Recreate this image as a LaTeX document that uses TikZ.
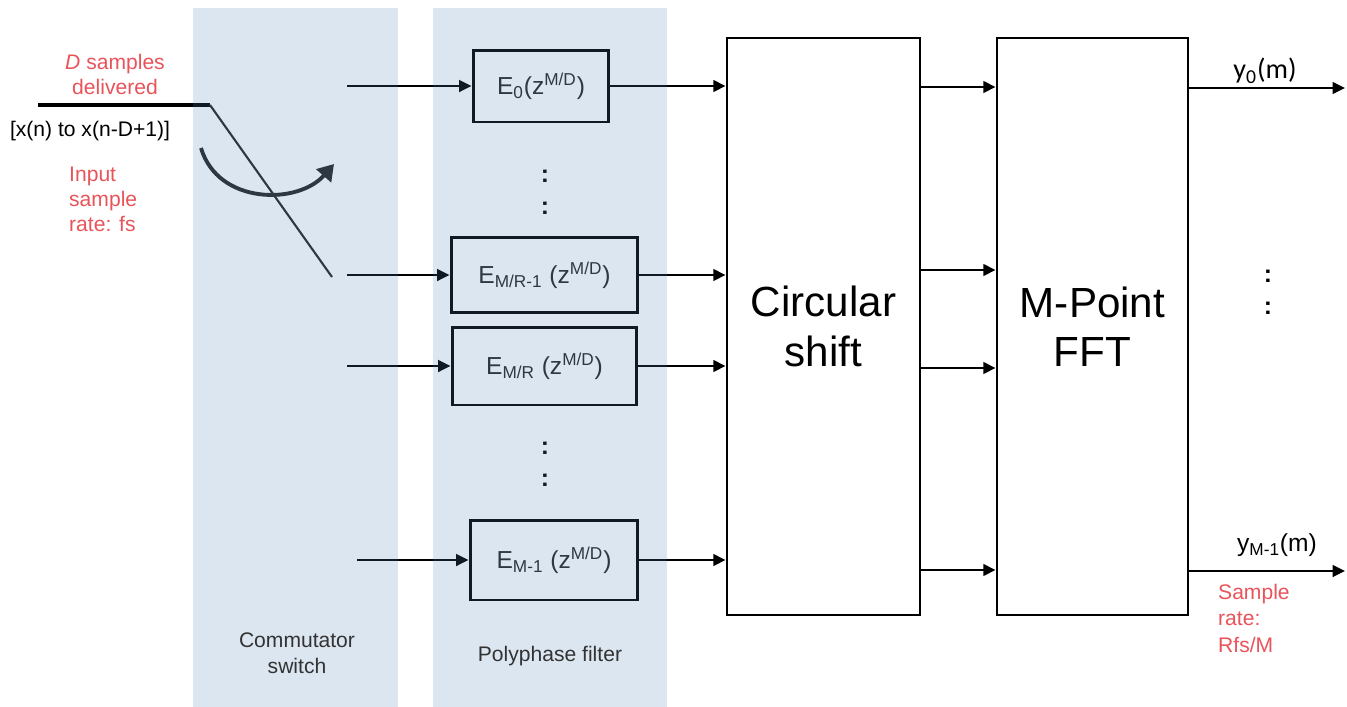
\documentclass[tikz,border=0pt]{standalone}
\usepackage{fontspec}
\setmainfont{Liberation Sans}
\newfontfamily\calfont{Carlito}
\usetikzlibrary{arrows.meta,positioning,calc}
\definecolor{alertred}{RGB}{232,84,90}
\definecolor{panelblue}{RGB}{80,130,185}

\begin{document}
\begin{tikzpicture}[x=0.02cm,y=-0.02cm,
    filt/.style={rectangle,draw,line width=1.7pt,inner sep=0pt,text=black!85,font=\fontsize{14}{16}\selectfont},
    blk/.style={rectangle,draw,line width=1.6pt,minimum width=3.86cm,minimum height=11.54cm,align=center,font=\fontsize{24}{28}\selectfont},
    sig/.style={line width=1.6pt,-{Triangle[length=7pt,width=6.5pt]}},
    note/.style={text=alertred,align=left,font=\fontsize{12}{14.2}\selectfont},
    dots/.style={align=center,inner sep=0pt,font=\bfseries\fontsize{14}{18}\selectfont},
    panel/.style={rectangle,fill=panelblue,fill opacity=0.2,minimum height=13.98cm,inner sep=0pt}]
    \useasboundingbox (0,0) rectangle (1347,707);

    % Input side
    \coordinate (src) at (38,105);
    \coordinate (tap) at (210,105);
    \coordinate (swend) at (332,277);
    \draw[line width=1.8pt] (src) -- (tap);
    \draw[line width=1.2pt,black!85] (tap) -- (swend);
    \draw[line width=2.2pt,black!85,-{Triangle[length=9pt,width=11pt]}] (201,148) .. controls (218,205) and (298,205) .. (334,164);
    \node[note,align=center] (dlbl) at (115,74) {\textit{D} samples\\delivered};
    \node[font=\fontsize{12}{14}\selectfont] (xlbl) at (90,131) {[x(n) to x(n-D+1)]};
    \node[note,anchor=west] (fslbl) at (63,199) {Input\\sample\\rate: fs};

    % Polyphase branches
    \node[filt,minimum width=2.72cm,minimum height=1.44cm] (e0) at (541,86) {E\textsubscript{0}(z\textsuperscript{M/D})};
    \node[filt,minimum width=3.74cm,minimum height=1.5cm] (emr1) at (544.5,275) {E\textsubscript{M/R-1} (z\textsuperscript{M/D})};
    \node[filt,minimum width=3.7cm,minimum height=1.56cm] (emr) at (544.5,366) {E\textsubscript{M/R} (z\textsuperscript{M/D})};
    \node[filt,minimum width=3.36cm,minimum height=1.6cm] (em1) at (554,560) {E\textsubscript{M-1} (z\textsuperscript{M/D})};
    \node[dots] (dots1) at (545,192) {:\\:};
    \node[dots] (dots2) at (545,464) {:\\:};

    \coordinate (in0) at (347,86);
    \coordinate (in1) at (347,275);
    \coordinate (in2) at (347,366);
    \coordinate (in3) at (357,560);
    \draw[sig] (in0) -- (e0.west);
    \draw[sig] (in1) -- (emr1.west);
    \draw[sig] (in2) -- (emr.west);
    \draw[sig] (in3) -- (em1.west);

    % Circular shift and FFT
    \node[blk] (circ) at (823.5,326.5) {Circular\\shift};
    \node[blk,minimum width=3.82cm] (fft) at (1092.5,326.5) {M-Point\\FFT};

    \draw[sig] (e0.east) -- (e0.east -| circ.west);
    \draw[sig] (emr1.east) -- (emr1.east -| circ.west);
    \draw[sig] (emr.east) -- (emr.east -| circ.west);
    \draw[sig] (em1.east) -- (em1.east -| circ.west);

    \coordinate (r0) at (0,87);
    \coordinate (r1) at (0,270);
    \coordinate (r2) at (0,368);
    \coordinate (r3) at (0,570);
    \draw[sig] (circ.east |- r0) -- (fft.west |- r0);
    \draw[sig] (circ.east |- r1) -- (fft.west |- r1);
    \draw[sig] (circ.east |- r2) -- (fft.west |- r2);
    \draw[sig] (circ.east |- r3) -- (fft.west |- r3);

    % Outputs
    \coordinate (out0) at (1345,88);
    \coordinate (out1) at (1345,571);
    \draw[sig] (fft.east |- out0) -- (out0);
    \draw[sig] (fft.east |- out1) -- (out1);
    \node[font=\calfont\fontsize{16}{18}\selectfont] (y0lbl) at (1265,71) {y\textsubscript{0}(m)};
    \node[font=\fontsize{14}{16}\selectfont] (ylbl) at (1277,545) {y\textsubscript{M-1}(m)};
    \node[dots] (dots3) at (1268,292) {:\\:};
    \node[note,anchor=north west,font=\fontsize{12}{15}\selectfont] (ratelbl) at (1212,578) {Sample\\rate:\\Rfs/M};

    % Shaded stages
    \node[panel,minimum width=4.1cm] (comm) at (295.5,357.5) {};
    \node[panel,minimum width=4.68cm] (poly) at (550,357.5) {};
    \node[align=center,text=black!80,font=\fontsize{12}{14.5}\selectfont] (commlbl) at (297,653) {Commutator\\switch};
    \node[text=black!80,font=\fontsize{12}{14}\selectfont] (polylbl) at (550,656) {Polyphase filter};
\end{tikzpicture}
\end{document}
